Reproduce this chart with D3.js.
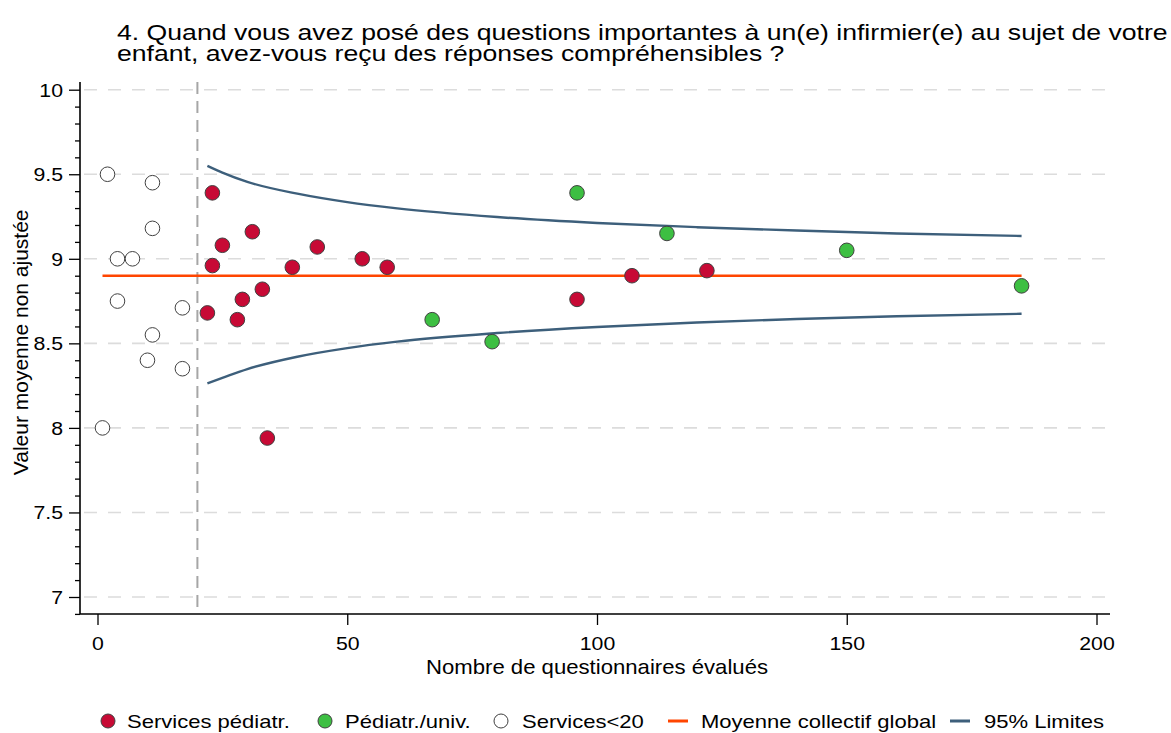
<!DOCTYPE html>
<html>
<head>
<meta charset="utf-8">
<script src="https://cdn.jsdelivr.net/npm/d3@7"></script>
<style>
  html, body { margin: 0; padding: 0; background: #fff; }
  svg { display: block; font-family: "Liberation Sans", Arial, Helvetica, sans-serif; }
</style>
</head>
<body>
<svg id="chart" width="1171" height="733"></svg>
<script>
// Funnel plot: unadjusted mean score per unit vs. number of questionnaires

const titleLines = [
  "4. Quand vous avez posé des questions importantes à un(e) infirmier(e) au sujet de votre",
  "enfant, avez-vous reçu des réponses compréhensibles ?"
];

// Services pédiatriques (n >= 20)
const pedN = [23, 31, 25, 23, 39, 33, 29, 22, 28, 34, 44, 53, 58, 96, 107, 122];
const pedV = [9.39, 9.16, 9.08, 8.96, 8.95, 8.82, 8.76, 8.68, 8.64, 7.94, 9.07, 9.00, 8.95, 8.76, 8.90, 8.93];

// Pédiatrie universitaire
const univN = [96, 114, 67, 79, 150, 185];
const univV = [9.39, 9.15, 8.64, 8.51, 9.05, 8.84];

// Services with fewer than 20 questionnaires
const smallN = [2, 11, 11, 4, 7, 4, 17, 11, 10, 17, 1];
const smallV = [9.50, 9.45, 9.18, 9.00, 9.00, 8.75, 8.71, 8.55, 8.40, 8.35, 8.00];

// Overall mean and its extent along x
const meanValue = 8.9;
const meanRange = [1, 185];

// 95% control limits
const limitN     = [22, 25, 30, 40, 50, 60, 80, 100, 120, 140, 160, 185];
const limitUpper = [9.55, 9.51, 9.455, 9.385, 9.335, 9.298, 9.247, 9.212, 9.187, 9.167, 9.15, 9.135];
const limitLower = [8.264, 8.296, 8.348, 8.421, 8.472, 8.51, 8.561, 8.597, 8.623, 8.644, 8.66, 8.675];

const minSize = 20;

const xTicks = [0, 50, 100, 150, 200];
const yTicks = [7, 7.5, 8, 8.5, 9, 9.5, 10];
const yMinorTicks = d3.range(69, 101).map(d => d / 10);

const legendItems = [
  { label: "Services pédiatr.", type: "dot", key: "ped" },
  { label: "Pédiatr./univ.", type: "dot", key: "univ" },
  { label: "Services<20", type: "dot", key: "small" },
  { label: "Moyenne collectif global", type: "line", key: "mean" },
  { label: "95% Limites", type: "line", key: "limit" }
];

const colors = {
  ped: "#c70a35",
  univ: "#3dbf42",
  small: "#ffffff",
  mean: "#ff4500",
  limit: "#3d5f7b",
  dotStroke: "#404040",
  grid: "#dcdcdc",
  ref: "#a6a6a6"
};

const svg = d3.select("#chart");

const x = d3.scaleLinear().domain([0, 200]).range([97.5, 1096.5]);
const y = d3.scaleLinear().domain([7, 10]).range([597, 89.7]);

const plotLeft = 80, plotRight = 1110, plotTop = 82, plotBottom = 614;

// Text helper: horizontally widened glyphs
function wideText(parent, tx, ty, str, size, sx, anchor) {
  return parent.append("text")
    .attr("transform", `translate(${tx},${ty}) scale(${sx},1)`)
    .attr("font-size", size)
    .attr("text-anchor", anchor || "start")
    .attr("fill", "#000")
    .text(str);
}

// Title: one text block, two tightly spaced lines
const title = svg.append("text")
  .attr("transform", "translate(117,40) scale(1.184,1)")
  .attr("font-size", 22.5)
  .attr("fill", "#000");
title.selectAll("tspan").data(titleLines).join("tspan")
  .attr("x", 0)
  .attr("y", (d, i) => i * 21)
  .text(d => d);

// Horizontal grid lines
svg.append("g").selectAll("line").data(yTicks).join("line")
  .attr("x1", plotLeft + 4).attr("x2", plotRight)
  .attr("y1", d => y(d)).attr("y2", d => y(d))
  .attr("stroke", colors.grid).attr("stroke-width", 1.6)
  .attr("stroke-dasharray", "13,11");

// Reference line at the minimum size
svg.append("line")
  .attr("x1", x(minSize)).attr("x2", x(minSize))
  .attr("y1", plotTop).attr("y2", plotBottom)
  .attr("stroke", colors.ref).attr("stroke-width", 2)
  .attr("stroke-dasharray", "12,7");

// Y axis: major ticks with labels, minor ticks every 0.1
const tickSx = 1.12;
const yAxis = svg.append("g")
  .attr("transform", `translate(${plotLeft},0)`)
  .call(d3.axisLeft(y).tickValues(yTicks).tickSize(11).tickPadding(7)
    .tickFormat(d3.format("~g")));
yAxis.select(".domain").remove();
yAxis.selectAll(".tick line").attr("stroke", "#000").attr("stroke-width", 1.3);
yAxis.selectAll(".tick text")
  .attr("font-size", 19).attr("fill", "#000")
  .attr("font-family", "Liberation Sans, Arial, sans-serif")
  .attr("x", -17 / tickSx).attr("dy", "0.34em")
  .attr("transform", `scale(${tickSx},1)`);

const yMinor = svg.append("g")
  .attr("transform", `translate(${plotLeft},0)`)
  .call(d3.axisLeft(y).tickValues(yMinorTicks.filter(d => !yTicks.some(t => Math.abs(t - d) < 1e-9)))
    .tickSize(5).tickFormat(""));
yMinor.select(".domain").remove();
yMinor.selectAll(".tick line").attr("stroke", "#000").attr("stroke-width", 1.3);

// X axis
const xAxis = svg.append("g")
  .attr("transform", `translate(0,${plotBottom})`)
  .call(d3.axisBottom(x).tickValues(xTicks).tickSize(11).tickPadding(8)
    .tickFormat(d3.format("d")));
xAxis.select(".domain").remove();
xAxis.selectAll(".tick line").attr("stroke", "#000").attr("stroke-width", 1.3);
xAxis.selectAll(".tick text")
  .attr("font-size", 19).attr("fill", "#000")
  .attr("font-family", "Liberation Sans, Arial, sans-serif")
  .attr("y", 36).attr("dy", 0)
  .attr("transform", `scale(${tickSx},1)`);

// Axis lines
svg.append("path")
  .attr("d", `M${plotLeft},${plotTop}V${plotBottom}H${plotRight}`)
  .attr("fill", "none").attr("stroke", "#000").attr("stroke-width", 1.6);

// Axis titles
svg.append("text")
  .attr("transform", `translate(28,${(y(7) + y(10)) / 2 - 1}) rotate(-90)`)
  .attr("text-anchor", "middle").attr("font-size", 21)
  .text("Valeur moyenne non ajustée");

wideText(svg, x(100), 674, "Nombre de questionnaires évalués", 20.5, 1.08, "middle");

// Control limits
const limitLine = d3.line().x(d => x(d[0])).y(d => y(d[1])).curve(d3.curveMonotoneX);
[limitUpper, limitLower].forEach(arr => {
  svg.append("path")
    .datum(limitN.map((n, i) => [n, arr[i]]))
    .attr("d", limitLine)
    .attr("fill", "none").attr("stroke", colors.limit).attr("stroke-width", 2.4);
});

// Overall mean
svg.append("line")
  .attr("x1", x(meanRange[0])).attr("x2", x(meanRange[1]))
  .attr("y1", y(meanValue)).attr("y2", y(meanValue))
  .attr("stroke", colors.mean).attr("stroke-width", 2.4);

// Points
function drawDots(ns, vs, fill) {
  svg.append("g").selectAll("circle").data(ns.map((n, i) => [n, vs[i]])).join("circle")
    .attr("cx", d => x(d[0])).attr("cy", d => y(d[1])).attr("r", 7.3)
    .attr("fill", fill).attr("stroke", colors.dotStroke).attr("stroke-width", 1);
}
drawDots(smallN, smallV, colors.small);
drawDots(pedN, pedV, colors.ped);
drawDots(univN, univV, colors.univ);

// Legend
const legendMarkX = [108, 325, 501, 678, 960];
const legendTextX = [127, 345, 522, 701, 984];
const legend = svg.append("g");
legendItems.forEach((item, i) => {
  if (item.type === "dot") {
    legend.append("circle").attr("r", 7).attr("cx", legendMarkX[i]).attr("cy", 721)
      .attr("fill", colors[item.key]).attr("stroke", colors.dotStroke).attr("stroke-width", 1);
  } else {
    legend.append("line")
      .attr("x1", legendMarkX[i] - 10).attr("x2", legendMarkX[i] + 10)
      .attr("y1", 721).attr("y2", 721)
      .attr("stroke", colors[item.key]).attr("stroke-width", 3);
  }
  wideText(legend, legendTextX[i], 728, item.label, 19, 1.16);
});
</script>
</body>
</html>
